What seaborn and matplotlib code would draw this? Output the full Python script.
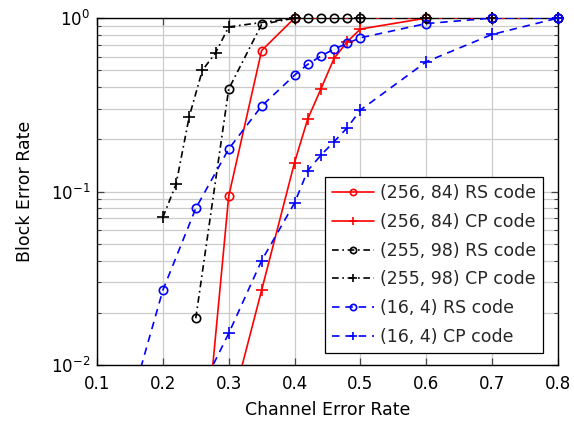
import numpy as np
import pandas as pd
import seaborn as sns
import matplotlib.pyplot as plt
from matplotlib.lines import Line2D
from matplotlib.ticker import LogLocator, NullFormatter, MultipleLocator

sns.set_style("ticks")
plt.rcParams['font.family'] = ['DejaVu Sans']

# channel error rate vs block error rate
rs256_x = [0.25, 0.3, 0.35, 0.4, 0.6, 0.7, 0.8]
rs256_y = [0.0009, 0.094, 0.65, 1, 1, 1, 1]
cp256_x = [0.3, 0.35, 0.4, 0.42, 0.44, 0.46, 0.48, 0.5, 0.6, 0.7, 0.8]
cp256_y = [0.005, 0.027, 0.147, 0.262, 0.39, 0.586, 0.73, 0.865, 1, 1, 1]
rs255_x = [0.25, 0.3, 0.35, 0.4, 0.42, 0.44, 0.46, 0.48, 0.5, 0.6, 0.7, 0.8]
rs255_y = [0.0186, 0.39, 0.92, 1, 1, 1, 1, 1, 1, 1, 1, 1]
cp255_x = [0.2, 0.22, 0.24, 0.26, 0.28, 0.3, 0.4, 0.5, 0.6, 0.7, 0.8]
cp255_y = [0.071, 0.11, 0.27, 0.50, 0.63, 0.89, 1, 1, 1, 1, 1]
rs16_x = [0.15, 0.2, 0.25, 0.3, 0.35, 0.4, 0.42, 0.44, 0.46, 0.48, 0.5, 0.6, 0.7, 0.8]
rs16_y = [0.0058, 0.027, 0.08, 0.176, 0.311, 0.469, 0.541, 0.604, 0.663, 0.715, 0.77, 0.93, 1, 1]
cp16_x = [0.25, 0.3, 0.35, 0.4, 0.42, 0.44, 0.46, 0.48, 0.5, 0.6, 0.7, 0.8]
cp16_y = [0.0063, 0.0152, 0.040, 0.086, 0.132, 0.162, 0.194, 0.233, 0.295, 0.56, 0.805, 1]

dashdot = (0, (4, 2.2, 1, 2.2))
dashed = (0, (4.5, 3.5))
series = [
    ("(256, 84) RS code", rs256_x, rs256_y, "red", "-", "o"),
    ("(256, 84) CP code", cp256_x, cp256_y, "red", "-", "+"),
    ("(255, 98) RS code", rs255_x, rs255_y, "black", dashdot, "o"),
    ("(255, 98) CP code", cp255_x, cp255_y, "black", dashdot, "+"),
    ("(16, 4) RS code", rs16_x, rs16_y, "blue", dashed, "o"),
    ("(16, 4) CP code", cp16_x, cp16_y, "blue", dashed, "+"),
]

fig, ax = plt.subplots(figsize=(5.74, 4.21), dpi=100)
fig.subplots_adjust(left=0.169, right=0.972, top=0.957, bottom=0.133)

handles = []
for label, xs, ys, color, ls, mk in series:
    df = pd.DataFrame({"x": xs, "y": ys})
    ms = 6 if mk == "o" else 8
    # line, clipped to the axes
    sns.lineplot(data=df, x="x", y="y", ax=ax, color=color, linestyle=ls,
                 linewidth=1.2, legend=False, zorder=3)
    # markers inside the range, not clipped
    inside = df[df["y"] >= 0.01]
    sns.lineplot(data=inside, x="x", y="y", ax=ax, color=color, linestyle="none",
                 marker=mk, markersize=ms, markerfacecolor="none",
                 markeredgecolor=color, markeredgewidth=1.2, legend=False,
                 clip_on=False, zorder=4)
    handles.append(Line2D([], [], color=color, linestyle=ls, linewidth=1.2, marker=mk,
                          markersize=ms * 0.75, markerfacecolor="none",
                          markeredgecolor=color, markeredgewidth=1.2, label=label))

ax.set_yscale("log")
ax.set_xlim(0.1, 0.8)
ax.set_ylim(1e-2, 1)
ax.xaxis.set_major_locator(MultipleLocator(0.1))
ax.yaxis.set_major_locator(LogLocator(base=10))
ax.yaxis.set_minor_locator(LogLocator(base=10, subs=np.arange(2, 10)))
ax.yaxis.set_minor_formatter(NullFormatter())

ax.grid(True, which="major", color="#cbcbcb", linewidth=0.9)
ax.grid(True, which="minor", axis="y", color="#cbcbcb", linewidth=0.9)
ax.set_axisbelow(True)

ax.tick_params(which="both", direction="in", top=True, right=True, labelsize=12,
               color="#444444", labelcolor="black")
ax.tick_params(which="major", length=5, width=0.9)
ax.tick_params(which="minor", length=3, width=0.8)
ax.tick_params(axis="x", pad=7)
ax.tick_params(axis="y", pad=5)
for s in ax.spines.values():
    s.set_color("black")
    s.set_linewidth(1.0)

ax.set_xlabel("Channel Error Rate", fontsize=12.5, labelpad=6, color="black")
ax.set_ylabel("Block Error Rate", fontsize=12.5, labelpad=12, color="black")

leg = ax.legend(handles=handles, loc="lower right", bbox_to_anchor=(0.967, 0.035),
                borderaxespad=0, fontsize=12.5, frameon=True, fancybox=False,
                edgecolor="black", framealpha=1, handlelength=2.4,
                handletextpad=0.35, labelspacing=0.62, borderpad=0.4)
leg.get_frame().set_linewidth(0.9)
leg.set_zorder(10)

fig.savefig("out.png", dpi=100)
